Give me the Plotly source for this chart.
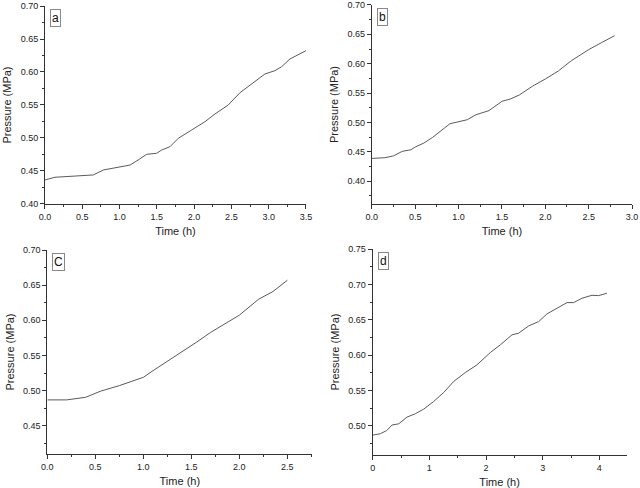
import plotly.graph_objects as go

# ---- data ----
t_a = [0, 0.134, 0.268, 0.447, 0.648, 0.782, 0.894, 1.006, 1.14, 1.25, 1.364, 1.497, 1.565,
       1.676, 1.788, 1.967, 2.146, 2.28, 2.458, 2.615, 2.816, 2.95, 3.084, 3.174, 3.286,
       3.397, 3.5]
p_a = [0.4364, 0.4405, 0.4414, 0.4429, 0.444, 0.4515, 0.4535, 0.4565, 0.459, 0.4667, 0.4753,
       0.4768, 0.4818, 0.4868, 0.4995, 0.5121, 0.5247, 0.5364, 0.55, 0.5686, 0.5853, 0.597,
       0.602, 0.608, 0.6197, 0.6258, 0.6323]

t_b = [0, 0.15, 0.25, 0.35, 0.45, 0.5, 0.6, 0.7, 0.9, 1.0, 1.1, 1.2, 1.35, 1.5, 1.6, 1.7,
       1.85, 2.0, 2.15, 2.3, 2.5, 2.65, 2.8]
p_b = [0.4386, 0.4398, 0.443, 0.4506, 0.4534, 0.458, 0.4648, 0.4744, 0.4977, 0.5006, 0.5045,
       0.513, 0.520, 0.5358, 0.540, 0.5466, 0.5614, 0.5739, 0.5875, 0.605, 0.6239, 0.636, 0.6477]

t_c = [0, 0.2, 0.4, 0.55, 0.75, 0.9, 1.0, 1.1, 1.25, 1.4, 1.55, 1.7, 1.85, 2.0, 2.2, 2.35, 2.5]
p_c = [0.4869, 0.4869, 0.4906, 0.4991, 0.5072, 0.5143, 0.519, 0.5284, 0.5417, 0.5544, 0.5686,
       0.5828, 0.5946, 0.6074, 0.630, 0.641, 0.657]

t_d = [0, 0.135, 0.25, 0.34, 0.46, 0.605, 0.752, 0.9, 1.076, 1.253, 1.429, 1.634, 1.84, 2.075,
       2.252, 2.458, 2.576, 2.753, 2.929, 3.076, 3.252, 3.429, 3.546, 3.693, 3.87, 3.988, 4.134]
p_d = [0.4868, 0.4887, 0.4934, 0.501, 0.5028, 0.5123, 0.517, 0.5236, 0.5344, 0.5471, 0.5627,
       0.5754, 0.5863, 0.6037, 0.6146, 0.6288, 0.6312, 0.6415, 0.6476, 0.6585, 0.6665, 0.6745,
       0.6745, 0.6807, 0.6849, 0.6844, 0.6878]

panel_labels = ["a", "b", "C", "d"]
x_title = "Time (h)"
y_title = "Pressure (MPa)"

# ---- layout geometry ----
panels = [
    dict(t=t_a, p=p_a, xd=[0.0703, 0.478], yd=[0.582, 0.9877], xr=[0, 3.5], yr=[0.40, 0.70],
         xdt=0.5, ydt=0.05, xfmt=".1f"),
    dict(t=t_b, p=p_b, xd=[0.581, 0.9875], yd=[0.582, 0.9898], xr=[0, 3.0], yr=[0.361, 0.70],
         xdt=0.5, ydt=0.05, xfmt=".1f"),
    dict(t=t_c, p=p_c, xd=[0.074, 0.488], yd=[0.0697, 0.4877], xr=[0, 2.76], yr=[0.41, 0.70],
         xdt=0.5, ydt=0.05, xfmt=".1f"),
    dict(t=t_d, p=p_d, xd=[0.5823, 0.979], yd=[0.0682, 0.4891], xr=[0, 4.48], yr=[0.459, 0.75],
         xdt=1, ydt=0.05, xfmt="d"),
]

FONT = "Liberation Sans, Arial, sans-serif"
AX = "#333333"

fig = go.Figure()
annotations = []
for i, pn in enumerate(panels):
    n = "" if i == 0 else str(i + 1)
    xa, ya = "x" + n, "y" + n
    fig.add_trace(go.Scatter(x=pn["t"], y=pn["p"], mode="lines", xaxis=xa, yaxis=ya,
                             line=dict(color="#5a5a5a", width=1), showlegend=False,
                             hoverinfo="skip"))
    common = dict(showline=True, linecolor=AX, linewidth=1, ticks="outside", ticklen=4,
                  tickwidth=1, tickcolor=AX, showgrid=False, zeroline=False, automargin=False,
                  tickfont=dict(family=FONT, size=9, color="#222222"),
                  title_font=dict(family=FONT, size=11, color="#222222"))
    fig.layout["xaxis" + n] = dict(domain=pn["xd"], range=pn["xr"], anchor=ya, dtick=pn["xdt"],
                                   tick0=0, tickformat=pn["xfmt"],
                                   minor=dict(ticks="outside", ticklen=2, dtick=pn["xdt"] / 2,
                                              tick0=0, tickcolor=AX),
                                   title=dict(text=x_title, standoff=6), **common)
    fig.layout["yaxis" + n] = dict(domain=pn["yd"], range=pn["yr"], anchor=xa, dtick=pn["ydt"],
                                   tick0=0, tickformat=".2f",
                                   minor=dict(ticks="outside", ticklen=2, dtick=pn["ydt"] / 2,
                                              tick0=0, tickcolor=AX),
                                   title=dict(text=y_title, standoff=6), **common)
    annotations.append(dict(text=panel_labels[i], xref="paper", yref="paper",
                            x=pn["xd"][0] + 0.008, y=pn["yd"][1] - 0.006,
                            xanchor="left", yanchor="top", showarrow=False,
                            font=dict(family=FONT, size=12, color="#111111"),
                            bordercolor="#888888", borderwidth=1, borderpad=1,
                            bgcolor="white"))

fig.update_layout(width=640, height=488, margin=dict(l=0, r=0, t=0, b=0),
                  paper_bgcolor="white", plot_bgcolor="white", annotations=annotations)

fig.write_html("out.html", config={"displayModeBar": False},
               post_script="document.body.style.margin='0px';"
               "document.body.style.overflow='hidden';")
